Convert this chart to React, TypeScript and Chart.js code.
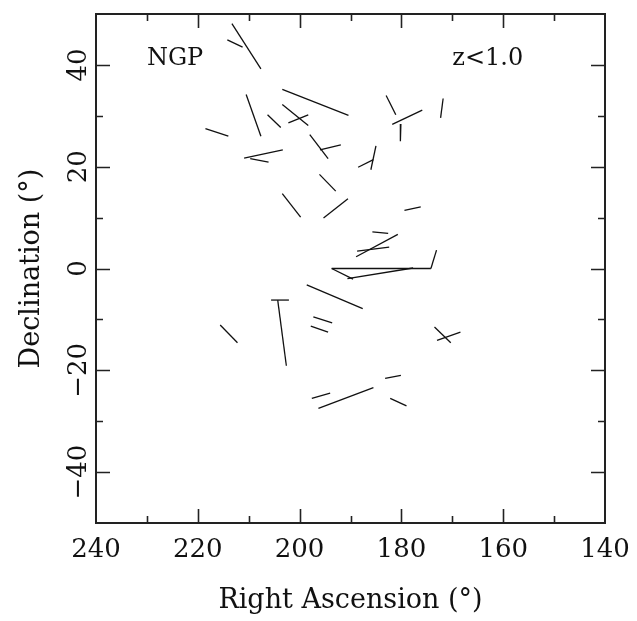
import React, { useEffect, useRef } from "react";
import { Chart, registerables } from "chart.js";

Chart.register(...registerables);

// Segment start / end coordinates (Right Ascension, Declination in degrees)
const raStart = [213.3, 214.2, 203.4, 210.5, 206.3, 203.4, 202.2, 218.5, 198.0, 196.0, 210.9, 209.7, 196.1, 183.0, 181.8, 180.1, 171.8, 185.0, 188.5, 203.4, 195.3, 193.7, 193.7, 190.6, 174.2, 185.7, 179.4, 188.9, 188.7, 198.6, 173.5, 173.0, 205.6, 204.3, 197.3, 197.8, 215.6, 197.6, 196.3, 183.2, 182.2];
const decStart = [48.1, 44.9, 35.2, 34.2, 30.2, 32.2, 28.6, 27.5, 26.3, 23.3, 21.7, 21.6, 18.5, 34.0, 28.3, 28.4, 33.4, 24.1, 19.9, 14.7, 9.9, 0.0, 0.0, -2.0, 0.0, 7.2, 11.4, 2.3, 3.4, -3.2, -11.5, -14.1, -6.2, -6.2, -9.5, -11.3, -11.1, -25.5, -27.5, -21.6, -25.5];
const raEnd = [207.6, 211.2, 190.4, 207.6, 203.7, 198.3, 198.3, 214.0, 194.4, 191.9, 203.3, 206.1, 192.9, 181.1, 175.9, 180.2, 172.3, 186.0, 185.5, 199.8, 190.5, 174.2, 189.5, 177.7, 173.1, 182.6, 176.2, 180.7, 182.4, 187.6, 170.3, 168.4, 202.1, 202.6, 193.6, 194.4, 212.2, 194.0, 185.5, 180.1, 179.0];
const decEnd = [39.2, 43.5, 30.1, 26.0, 27.7, 28.1, 30.2, 26.0, 21.6, 24.3, 23.3, 20.9, 15.2, 30.2, 31.1, 25.0, 29.6, 19.4, 21.4, 10.1, 13.7, 0.0, -2.1, 0.1, 3.6, 6.9, 12.1, 6.7, 4.2, -7.9, -14.6, -12.5, -6.2, -19.1, -10.7, -12.5, -14.6, -24.5, -23.4, -21.0, -27.0];

const xMin = 140;
const xMax = 240;
const yMin = -50;
const yMax = 50;
const xTickValues = [240, 230, 220, 210, 200, 190, 180, 170, 160, 150, 140];
const xTickLabels = ["240", "220", "200", "180", "160", "140"];
const yTickValues = [-40, -30, -20, -10, 0, 10, 20, 30, 40];
const yTickLabels = ["−40", "−20", "0", "20", "40"];
const xTitle = "Right Ascension (°)";
const yTitle = "Declination (°)";
const annotations = [
  { text: "NGP", ra: 230, dec: 40 },
  { text: "z<1.0", ra: 170, dec: 40 },
];

const FONT = "'DejaVu Serif', serif";
const INK = "#111";

const framePlugin = {
  id: "framePlugin",
  afterDraw(chart: any) {
    const { ctx, chartArea } = chart;
    const xs = chart.scales.x;
    const ys = chart.scales.y;
    const { left, right, top, bottom } = chartArea;
    ctx.save();
    // frame
    ctx.strokeStyle = "#222";
    ctx.lineWidth = 2;
    ctx.strokeRect(left, top, right - left, bottom - top);
    // x ticks (inward, top and bottom)
    ctx.lineWidth = 1.6;
    xTickValues.forEach((v) => {
      if (v === xMin || v === xMax) return;
      const px = Math.round(xs.getPixelForValue(v)) + 0.5;
      const len = v % 20 === 0 ? 14 : 7;
      ctx.beginPath();
      ctx.moveTo(px, bottom);
      ctx.lineTo(px, bottom - len);
      ctx.moveTo(px, top);
      ctx.lineTo(px, top + len);
      ctx.stroke();
    });
    yTickValues.forEach((v) => {
      const py = Math.round(ys.getPixelForValue(v)) + 0.5;
      const len = v % 20 === 0 ? 14 : 7;
      ctx.beginPath();
      ctx.moveTo(left, py);
      ctx.lineTo(left + len, py);
      ctx.moveTo(right, py);
      ctx.lineTo(right - len, py);
      ctx.stroke();
    });
    // x tick labels
    ctx.fillStyle = INK;
    ctx.font = `26px ${FONT}`;
    ctx.textAlign = "center";
    ctx.textBaseline = "alphabetic";
    xTickLabels.forEach((lab) => {
      const px = xs.getPixelForValue(Number(lab));
      ctx.fillText(lab, px, bottom + 34);
    });
    // y tick labels (rotated)
    yTickLabels.forEach((lab) => {
      const val = Number(lab.replace("−", "-"));
      const py = ys.getPixelForValue(val);
      ctx.save();
      ctx.translate(left - 10, py);
      ctx.rotate(-Math.PI / 2);
      ctx.textAlign = "center";
      ctx.textBaseline = "alphabetic";
      ctx.fillText(lab, 0, 0);
      ctx.restore();
    });
    // axis titles
    ctx.font = `27px ${FONT}`;
    ctx.textAlign = "center";
    ctx.fillText(xTitle, (left + right) / 2, bottom + 85);
    ctx.save();
    ctx.translate(left - 57, (top + bottom) / 2);
    ctx.rotate(-Math.PI / 2);
    ctx.fillText(yTitle, 0, 0);
    ctx.restore();
    // annotations
    ctx.font = `24px ${FONT}`;
    ctx.textAlign = "left";
    annotations.forEach((a) => {
      ctx.fillText(a.text, xs.getPixelForValue(a.ra), ys.getPixelForValue(a.dec));
    });
    ctx.restore();
  },
};

export default function App() {
  const canvasRef = useRef<HTMLCanvasElement | null>(null);
  useEffect(() => {
    if (!canvasRef.current) return;
    const datasets = raStart.map((_, i) => ({
      data: [
        { x: raStart[i], y: decStart[i] },
        { x: raEnd[i], y: decEnd[i] },
      ],
      showLine: true,
      borderColor: INK,
      borderWidth: 1.3,
      pointRadius: 0,
      fill: false,
    }));
    const chart = new Chart(canvasRef.current, {
      type: "scatter",
      data: { datasets },
      options: {
        responsive: false,
        animation: false,
        devicePixelRatio: 1,
        layout: { padding: { left: 96, right: 32, top: 14, bottom: 98 } },
        plugins: { legend: { display: false }, tooltip: { enabled: false } },
        scales: {
          x: { type: "linear", min: xMin, max: xMax, reverse: true, display: false },
          y: { type: "linear", min: yMin, max: yMax, display: false },
        },
      },
      plugins: [framePlugin],
    });
    return () => chart.destroy();
  }, []);
  return (
    <div style={{ position: "fixed", left: 0, top: 0, width: 637, height: 621, background: "#fff" }}>
      <canvas ref={canvasRef} width={637} height={621} style={{ width: 637, height: 621, display: "block" }} />
    </div>
  );
}
